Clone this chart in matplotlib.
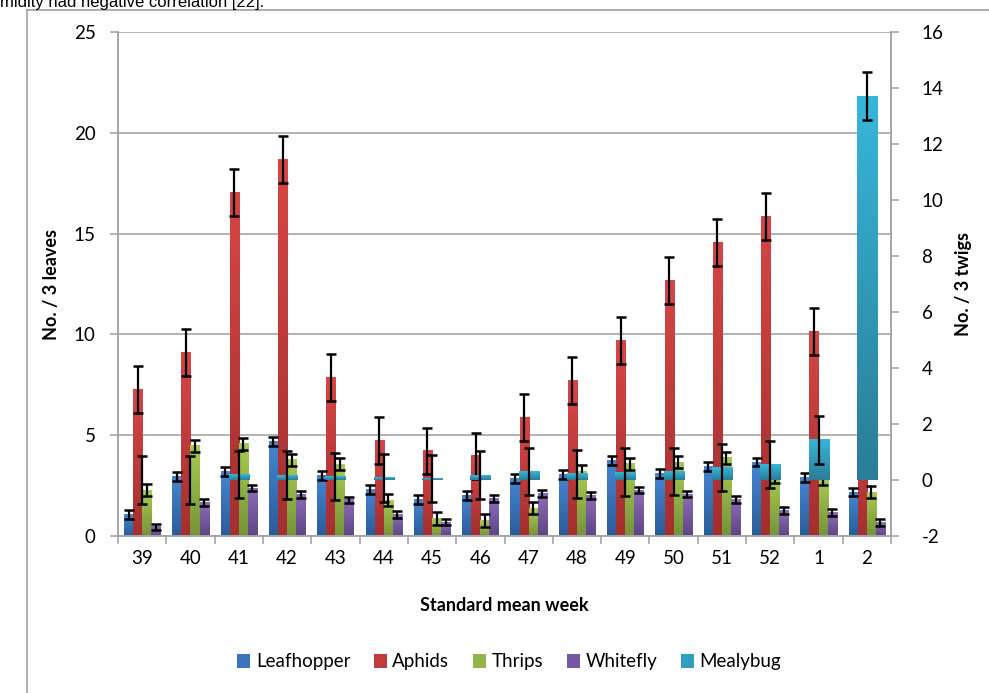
import numpy as np
import matplotlib
matplotlib.use("Agg")
import matplotlib.pyplot as plt
from matplotlib.colors import LinearSegmentedColormap
from matplotlib.lines import Line2D

plt.rcParams['font.family'] = ['Lato', 'DejaVu Sans']
plt.rcParams['axes.unicode_minus'] = False

weeks = ['39', '40', '41', '42', '43', '44', '45', '46', '47', '48', '49', '50', '51', '52', '1', '2']
leafhopper = [1.05, 2.94, 3.22, 4.68, 3.00, 2.30, 1.80, 2.01, 2.84, 3.06, 3.75, 3.09, 3.45, 3.67, 2.92, 2.18]
aphids = [7.28, 9.11, 17.04, 18.68, 7.86, 4.72, 4.22, 3.97, 5.88, 7.70, 9.69, 12.67, 14.57, 15.86, 10.13, 6.5]
thrips = [2.27, 4.47, 4.57, 3.77, 3.56, 1.78, 0.87, 0.77, 1.37, 3.20, 3.58, 3.67, 3.87, 2.95, 2.85, 2.17]
whitefly = [0.46, 1.66, 2.38, 2.05, 1.79, 1.06, 0.69, 1.86, 2.11, 2.01, 2.28, 2.07, 1.80, 1.26, 1.16, 0.66]
mealybug = [0.0, 0.0, 0.20, 0.17, 0.12, 0.08, 0.05, 0.17, 0.31, 0.22, 0.28, 0.31, 0.44, 0.56, 1.43, 13.71]

err_leafhopper = [0.22] * 16
err_aphids = [1.16] * 16
err_thrips = [0.30] * 16
err_whitefly = [0.16] * 16
err_mealybug = [0.85] * 16

series_names = ['Leafhopper', 'Aphids', 'Thrips', 'Whitefly', 'Mealybug']
colors_top = ['#4486D2', '#D64646', '#A6CB52', '#8D6DB8', '#37B6DA']
colors_bot = ['#2B5C9A', '#A42F2F', '#769339', '#5D4585', '#2A7D96']
colors_mid = ['#3A74BC', '#C23C3C', '#93B548', '#7759A2', '#31A0C0']

W, H = 989, 693
fig = plt.figure(figsize=(W / 100, H / 100), dpi=100)
ax = fig.add_axes([118 / W, 1 - 536 / H, (891 - 118) / W, (536 - 32) / H])
ax2 = ax.twinx()

x = np.arange(len(weeks))
bw = 0.188
mw = 0.415


def grad(axis, bars, top, bot):
    cmap = LinearSegmentedColormap.from_list('g', [bot, top])
    for b in bars:
        h = b.get_height()
        if h <= 0:
            continue
        x0, y0, w = b.get_x(), b.get_y(), b.get_width()
        axis.imshow(np.linspace(0, 1, 64).reshape(-1, 1), extent=[x0, x0 + w, y0, y0 + h],
                    origin='lower', cmap=cmap, aspect='auto', interpolation='bilinear',
                    zorder=b.get_zorder() + 0.1)


prim = [leafhopper, aphids, thrips, whitefly]
perr = [err_leafhopper, err_aphids, err_thrips, err_whitefly]
offs = [-1.5, -0.5, 0.5, 1.5]
for k in range(4):
    bars = ax.bar(x + offs[k] * bw, prim[k], width=bw, color=colors_mid[k], zorder=2,
                  label=series_names[k])
    grad(ax, bars, colors_top[k], colors_bot[k])
for k in range(4):
    ax.errorbar(x + offs[k] * bw, prim[k], yerr=perr[k], fmt='none', ecolor='black',
                elinewidth=1.6, capsize=3.4, capthick=1.8, zorder=4)

mb = ax2.bar(x, mealybug, width=mw, color=colors_mid[4], zorder=2, label='Mealybug')
grad(ax2, mb, colors_top[4], colors_bot[4])
ax2.errorbar(x, mealybug, yerr=err_mealybug, fmt='none', ecolor='black',
             elinewidth=1.6, capsize=3.4, capthick=1.8, zorder=4)

ax.set_xlim(-0.5, len(weeks) - 0.5)
ax.set_ylim(0, 25)
ax2.set_ylim(-2, 16)
ax.set_yticks(np.arange(0, 26, 5))
ax2.set_yticks(np.arange(-2, 17, 2))

fs = 13.5
ax.set_axisbelow(True)
ax.yaxis.grid(True, color='#A6A6A6', linewidth=1.2)
ax.set_xticks(np.arange(-0.5, len(weeks), 1.0))
ax.set_xticklabels([])
ax.set_xticks(x, minor=True)
ax.set_xticklabels(weeks, minor=True)
ax.tick_params(axis='x', which='major', length=6, width=1.2, color='#A6A6A6', direction='out')
ax.tick_params(axis='x', which='minor', length=0, labelsize=fs, pad=10)
ax.tick_params(axis='y', length=6, width=1.2, color='#A6A6A6', labelsize=fs, pad=10)
ax2.tick_params(axis='y', length=6, width=1.2, color='#A6A6A6', labelsize=fs, pad=16)

for a in (ax, ax2):
    for s in a.spines.values():
        s.set_color('#A6A6A6')
        s.set_linewidth(1.2)
    a.spines['top'].set_visible(False)

ax.set_ylabel('No. / 3 leaves', fontsize=13, fontweight='bold', labelpad=10)
ax2.set_ylabel('No. / 3 twigs', fontsize=13, fontweight='bold', labelpad=8)
ax.set_xlabel('Standard mean week', fontsize=13, fontweight='bold', labelpad=22)

h1, l1 = ax.get_legend_handles_labels()
h2, l2 = ax2.get_legend_handles_labels()
leg = fig.legend(h1 + h2, l1 + l2, loc='center', bbox_to_anchor=(509 / W, 1 - 662 / H),
                 ncol=5, frameon=False, fontsize=fs, handlelength=0.7, handleheight=0.7,
                 handletextpad=0.3, columnspacing=1.25)

# surrounding frame and document text
fig.add_artist(Line2D([27 / W, 27 / W], [0, 1 - 10 / H], transform=fig.transFigure,
                      color='#A0A0A0', linewidth=1.2))
fig.add_artist(Line2D([27 / W, 1], [1 - 10 / H, 1 - 10 / H], transform=fig.transFigure,
                      color='#A0A0A0', linewidth=1.2))
fig.text(0, 1 - 7 / H, 'midity had negative correlation [22].', fontsize=12,
         family=['Liberation Sans', 'DejaVu Sans'], va='baseline', ha='left')

fig.savefig('out.png', dpi=100)
